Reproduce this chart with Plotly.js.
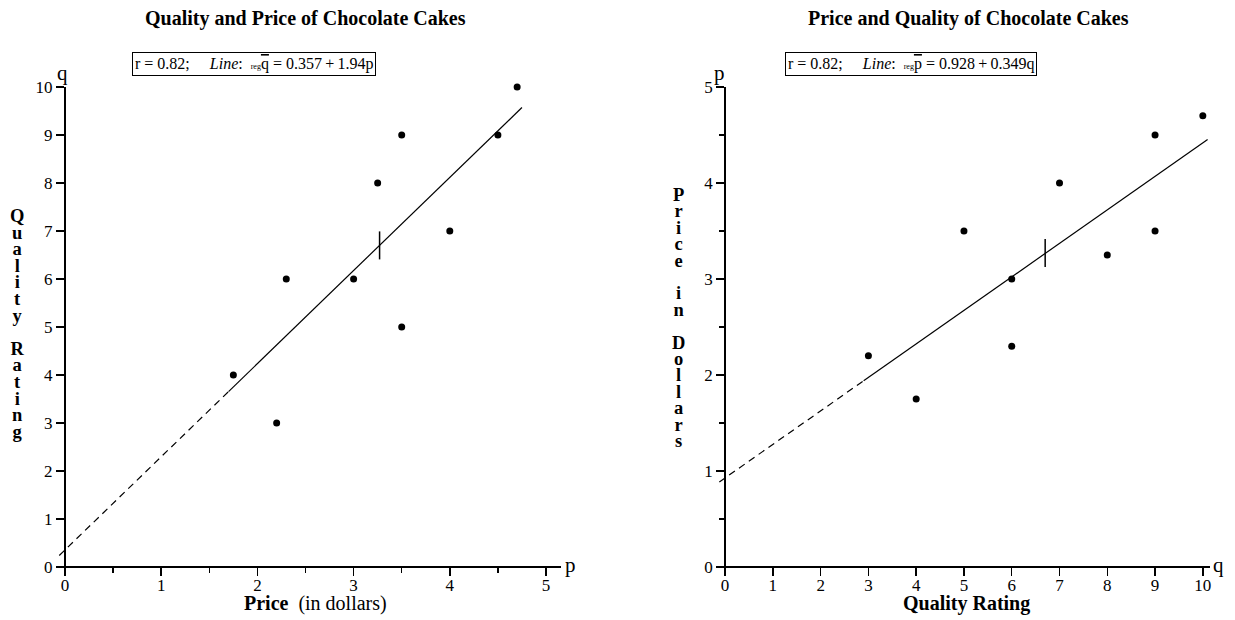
<!DOCTYPE html>
<html><head><meta charset="utf-8">
<script src="https://cdn.plot.ly/plotly-3.0.1.min.js"></script>
<style>html,body{margin:0;padding:0;background:#fff}#chart{width:1235px;height:620px}</style>
</head><body><div id="chart"></div>
<script>
// ---------------- data ----------------
const price   = [2.2, 1.75, 3.5, 3, 2.3, 4, 3.25, 4.5, 3.5, 4.7];
const quality = [3, 4, 5, 6, 6, 7, 8, 9, 9, 10];
const rValue = 0.82;
const regQonP = [0.357, 1.94];   // intercept, slope  (q = a + b p)
const regPonQ = [0.928, 0.349];  // intercept, slope  (p = a + b q)
const leftTitle  = "Quality and Price of Chocolate Cakes";
const rightTitle = "Price and Quality of Chocolate Cakes";
const leftXTitle = "<b>Price</b>\u00a0\u00a0(in dollars)";
const rightXTitle = "<b>Quality Rating</b>";
const leftYTitle = "Quality Rating";
const rightYTitle = "Price in Dollars";
const leftXTicks  = [0, 1, 2, 3, 4, 5];
const leftYTicks  = [0, 1, 2, 3, 4, 5, 6, 7, 8, 9, 10];
const rightXTicks = [0, 1, 2, 3, 4, 5, 6, 7, 8, 9, 10];
const rightYTicks = [0, 1, 2, 3, 4, 5];

// ---------------- geometry ----------------
const W = 1235, H = 620;
const FONT = "Liberation Serif, Times New Roman, serif";
const GL = {x0: 58, x1: 561, y0: 87, y1: 573, xr: [-0.073, 5.156], yr: [-0.125, 10]};
const GR = {x0: 716, x1: 1210, y0: 87, y1: 573, xr: [-0.19, 10.15], yr: [-0.0625, 5]};

function px2paperX(px) { return px / W; }
function px2paperY(py) { return (H - py) / H; }
function zeroX(g) { return px2paperX(g.x0 + (0 - g.xr[0]) / (g.xr[1] - g.xr[0]) * (g.x1 - g.x0)); }
function zeroY(g) { return px2paperY(g.y1 - (0 - g.yr[0]) / (g.yr[1] - g.yr[0]) * (g.y1 - g.y0)); }

const mean = a => a.reduce((s, v) => s + v, 0) / a.length;

function regTraces(xs, coef, axMax, xa, ya) {
  const ext = 0.01 * axMax;
  const xsMin = Math.min(...xs) - ext, xsMax = Math.max(...xs) + ext;
  const xd0 = -0.012 * axMax;
  const f = x => coef[0] + coef[1] * x;
  return [
    {x: [xd0, xsMin], y: [f(xd0), f(xsMin)], mode: 'lines', xaxis: xa, yaxis: ya,
     line: {color: '#000', width: 1.2, dash: '7px,5px'}, hoverinfo: 'skip', cliponaxis: false},
    {x: [xsMin, xsMax], y: [f(xsMin), f(xsMax)], mode: 'lines', xaxis: xa, yaxis: ya,
     line: {color: '#000', width: 1.2}, hoverinfo: 'skip', cliponaxis: false}
  ];
}

const traces = [
  ...regTraces(price, regQonP, leftXTicks[leftXTicks.length - 1], 'x', 'y'),
  {x: price, y: quality, mode: 'markers', xaxis: 'x', yaxis: 'y',
   marker: {color: '#000', size: 7}, cliponaxis: false},
  {x: [mean(price)], y: [mean(quality)], mode: 'markers', xaxis: 'x', yaxis: 'y',
   marker: {symbol: 'line-ns-open', size: 20, color: '#000', line: {color: '#000', width: 1.5}}},
  ...regTraces(quality, regPonQ, rightXTicks[rightXTicks.length - 1], 'x2', 'y2'),
  {x: quality, y: price, mode: 'markers', xaxis: 'x2', yaxis: 'y2',
   marker: {color: '#000', size: 7}, cliponaxis: false},
  {x: [mean(quality)], y: [mean(price)], mode: 'markers', xaxis: 'x2', yaxis: 'y2',
   marker: {symbol: 'line-ns-open', size: 20, color: '#000', line: {color: '#000', width: 1.5}}}
];

const TICKFONT = {family: FONT, size: 17, color: '#000'};
function xAxis(g, ticks, minorDt) {
  const ax = {
    domain: [px2paperX(g.x0), px2paperX(g.x1)], range: g.xr,
    anchor: 'free', position: zeroY(g),
    showline: true, linecolor: '#000', linewidth: 2,
    zeroline: false, showgrid: false,
    tickmode: 'array', tickvals: ticks, ticktext: ticks.map(String),
    ticks: 'outside', ticklen: 8, tickwidth: 1.5, tickcolor: '#000',
    ticklabelstandoff: -5,
    tickfont: TICKFONT
  };
  if (minorDt) ax.minor = {tickmode: 'linear', tick0: 0, dtick: minorDt, ticks: 'outside', ticklen: 5, tickwidth: 1.5, tickcolor: '#000', showgrid: false};
  return ax;
}
function yAxis(g, ticks, minorDt) {
  const ax = {
    domain: [px2paperY(g.y1), px2paperY(g.y0)], range: g.yr,
    anchor: 'free', position: zeroX(g),
    showline: true, linecolor: '#000', linewidth: 2,
    zeroline: false, showgrid: false,
    tickmode: 'array', tickvals: ticks, ticktext: ticks.map(String),
    ticks: 'outside', ticklen: 8, tickwidth: 1.5, tickcolor: '#000',
    tickfont: TICKFONT
  };
  if (minorDt) ax.minor = {tickmode: 'linear', tick0: 0, dtick: minorDt, ticks: 'outside', ticklen: 5, tickwidth: 1.5, tickcolor: '#000', showgrid: false};
  return ax;
}

const annotations = [];
function ann(text, xpx, ypx, opts) {
  annotations.push(Object.assign({
    text: text, xref: 'paper', yref: 'paper', x: px2paperX(xpx), y: px2paperY(ypx),
    showarrow: false, xanchor: 'center', yanchor: 'middle',
    font: {family: FONT, size: 16, color: '#000'}
  }, opts || {}));
}
const F = s => ({family: FONT, size: s, color: '#000'});
// titles
ann('<b>' + leftTitle + '</b>', 305, 19, {font: F(20)});
ann('<b>' + rightTitle + '</b>', 968, 19, {font: F(20)});
// x titles
ann(leftXTitle, 315, 603, {font: F(20)});
ann(rightXTitle, 966, 603, {font: F(20)});
// stacked y titles: one text, one letter per line (line pitch from base size, glyphs larger)
function stacked(str, xpx, ycenter, pitch) {
  const txt = [...str].map(ch => ch === ' ' ? '\u00a0' :
    '<span style="font-size:18.5px"><b>' + ch + '</b></span>').join('<br>');
  ann(txt, xpx, ycenter, {font: F(pitch / 1.3)});
}
stacked(leftYTitle, 17, 324, 16.6);
stacked(rightYTitle, 678, 318, 16.4);
// axis-end letters
ann('p', 563, 565, {xanchor: 'left', font: F(21)});
ann('q', 62, 87, {yanchor: 'bottom', font: F(21)});
ann('q', 1211, 565, {xanchor: 'left', font: F(21)});
ann('p', 719, 87, {yanchor: 'bottom', font: F(21)});
// equation boxes
const sp = n => '\u00a0'.repeat(n);
function eqText(yv, xv, coef) {
  return 'r' + sp(1) + '=' + sp(1) + rValue.toFixed(2) + ';' + sp(5) + '<i>Line</i>:' + sp(2) +
    '<span style="font-size:8px">reg</span><span style="text-decoration:overline">' + yv + '</span>' +
    sp(1) + '=' + sp(1) + coef[0] + '\u2009+\u2009' + coef[1] + xv;
}
ann(eqText('q', 'p', regQonP), 254, 64, {bordercolor: '#000', borderwidth: 1, borderpad: 2, bgcolor: '#fff', font: F(16)});
ann(eqText('p', 'q', regPonQ), 911, 64, {bordercolor: '#000', borderwidth: 1, borderpad: 2, bgcolor: '#fff', font: F(16)});

const layout = {
  width: W, height: H, margin: {l: 0, r: 0, t: 0, b: 0},
  paper_bgcolor: '#fff', plot_bgcolor: '#fff', showlegend: false,
  font: {family: FONT, color: '#000'},
  xaxis: xAxis(GL, leftXTicks, 0.5),
  yaxis: yAxis(GL, leftYTicks, 0),
  xaxis2: xAxis(GR, rightXTicks, 0),
  yaxis2: yAxis(GR, rightYTicks, 0.5),
  annotations: annotations
};
Plotly.newPlot('chart', traces, layout, {staticPlot: true});
</script></body></html>
